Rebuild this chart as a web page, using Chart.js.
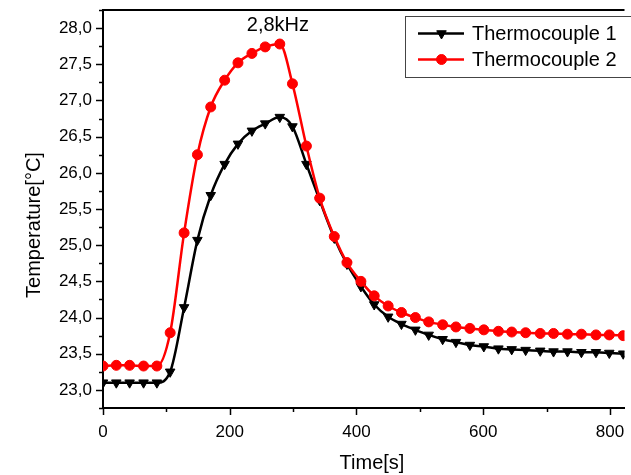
<!DOCTYPE html>
<html><head><meta charset="utf-8">
<script src="https://cdn.jsdelivr.net/npm/chart.js@4.4.1/dist/chart.umd.min.js"></script>
<style>html,body{margin:0;padding:0;background:#fff;}canvas{display:block;}</style>
</head><body>
<canvas id="c" width="631" height="475"></canvas>
<script>
// ---- data ----
const timeS = [0,21,42,64,85,106,128,149,170,192,213,235,256,279,299,321,342,365,385,407,428,450,471,493,514,536,557,579,601,624,645,667,690,711,733,755,778,799,821];
const thermocouple1 = [23.10,23.10,23.10,23.10,23.10,23.25,24.14,25.07,25.69,26.12,26.40,26.58,26.68,26.77,26.64,26.12,25.62,25.10,24.74,24.43,24.18,24.01,23.91,23.83,23.76,23.70,23.66,23.62,23.60,23.57,23.56,23.55,23.54,23.53,23.53,23.52,23.52,23.51,23.50];
const thermocouple2 = [23.33,23.34,23.34,23.33,23.33,23.79,25.17,26.25,26.91,27.28,27.52,27.65,27.74,27.78,27.23,26.37,25.65,25.12,24.76,24.50,24.30,24.16,24.07,24.00,23.94,23.90,23.87,23.85,23.83,23.81,23.80,23.79,23.78,23.78,23.77,23.77,23.76,23.76,23.75];
const seriesNames = ['Thermocouple 1', 'Thermocouple 2'];
const xTickValues = [0,100,200,300,400,500,600,700,800];
const xTickLabels = ['0','','200','','400','','600','','800'];
const yTickValues = [22.75,23.0,23.25,23.5,23.75,24.0,24.25,24.5,24.75,25.0,25.25,25.5,25.75,26.0,26.25,26.5,26.75,27.0,27.25,27.5,27.75,28.0,28.25];
const yTickLabels = ['','23,0','','23,5','','24,0','','24,5','','25,0','','25,5','','26,0','','26,5','','27,0','','27,5','','28,0',''];
const xTitle = 'Time[s]';
const yTitle = 'Temperature[°C]';
const annotationText = '2,8kHz';

const FONT = "'Liberation Sans', Arial, sans-serif";

const overlay = {
  id: 'overlay',
  afterDraw(chart) {
    const {ctx, chartArea: a, scales: {x, y}} = chart;
    ctx.save();
    ctx.strokeStyle = '#000';
    // top frame line
    ctx.lineWidth = 2;
    ctx.beginPath(); ctx.moveTo(a.left - 1, a.top); ctx.lineTo(a.right, a.top); ctx.stroke();
    // tick marks (major / minor)
    ctx.lineWidth = 1.5;
    yTickValues.forEach((v, i) => {
      const py = Math.round(y.getPixelForValue(v)) + 0.5;
      const len = yTickLabels[i] ? 7 : 4;
      ctx.beginPath(); ctx.moveTo(a.left - len, py); ctx.lineTo(a.left, py); ctx.stroke();
    });
    xTickValues.forEach((v, i) => {
      const px = Math.round(x.getPixelForValue(v)) + 0.5;
      const len = xTickLabels[i] ? 7 : 4;
      ctx.beginPath(); ctx.moveTo(px, a.bottom); ctx.lineTo(px, a.bottom + len); ctx.stroke();
    });
    // axis titles
    ctx.fillStyle = '#000';
    ctx.font = '20px ' + FONT;
    ctx.textAlign = 'center'; ctx.textBaseline = 'middle';
    ctx.fillText(xTitle, 372, 463);
    ctx.save();
    ctx.translate(34, 225); ctx.rotate(-Math.PI / 2);
    ctx.fillText(yTitle, 0, 0);
    ctx.restore();
    // annotation
    ctx.fillText(annotationText, x.getPixelForValue(276), y.getPixelForValue(28.03));
    // legend
    ctx.lineWidth = 1; ctx.strokeStyle = '#444';
    ctx.strokeRect(405.5, 16.5, 300, 61);
    const items = [
      {name: seriesNames[0], color: '#000', style: 'triangle', rot: 180, r: 5.5, y: 33.5},
      {name: seriesNames[1], color: '#ff0000', style: 'circle', rot: 0, r: 5, y: 59.5}
    ];
    items.forEach(it => {
      ctx.strokeStyle = it.color; ctx.fillStyle = it.color; ctx.lineWidth = 2.5;
      ctx.beginPath(); ctx.moveTo(418, it.y); ctx.lineTo(464, it.y); ctx.stroke();
      ctx.lineWidth = 1;
      Chart.helpers.drawPoint(ctx, {pointStyle: it.style, rotation: it.rot, radius: it.r, borderWidth: 1}, 441.5, it.y);
      ctx.fillStyle = '#000'; ctx.textAlign = 'left'; ctx.textBaseline = 'middle';
      ctx.font = '20px ' + FONT;
      ctx.fillText(it.name, 472, it.y + 1);
    });
    ctx.restore();
  }
};

new Chart(document.getElementById('c'), {
  type: 'line',
  data: {
    datasets: [
      {
        label: seriesNames[0],
        data: timeS.map((t, i) => ({x: t, y: thermocouple1[i]})),
        borderColor: '#000', backgroundColor: '#000',
        pointStyle: 'triangle', pointRotation: 180, pointRadius: 5.5,
        pointBackgroundColor: '#000', pointBorderColor: '#000', pointBorderWidth: 1,
        borderWidth: 2.5, cubicInterpolationMode: 'monotone', order: 1
      },
      {
        label: seriesNames[1],
        data: timeS.map((t, i) => ({x: t, y: thermocouple2[i]})),
        borderColor: '#ff0000', backgroundColor: '#ff0000',
        pointStyle: 'circle', pointRadius: 5,
        pointBackgroundColor: '#ff0000', pointBorderColor: '#ff0000', pointBorderWidth: 1,
        borderWidth: 2.5, cubicInterpolationMode: 'monotone', order: 0
      }
    ]
  },
  options: {
    responsive: false, animation: false, devicePixelRatio: 1, events: [],
    layout: {padding: {top: 10, left: 0, right: 0, bottom: 0}},
    plugins: {legend: {display: false}, tooltip: {enabled: false}},
    scales: {
      x: {
        type: 'linear', min: 0, max: 823,
        afterBuildTicks: s => { s.ticks = xTickValues.map(v => ({value: v})); },
        afterFit: s => { s.height = 67; s.paddingLeft = 0; s.paddingRight = 0; },
        grid: {display: false, drawTicks: false},
        border: {display: true, color: '#000', width: 2},
        ticks: {
          autoSkip: false, maxRotation: 0, padding: 14, color: '#000',
          font: {family: FONT, size: 17},
          callback: v => xTickLabels[xTickValues.indexOf(v)] ?? ''
        }
      },
      y: {
        type: 'linear', min: 22.75, max: 28.25,
        afterBuildTicks: s => { s.ticks = yTickValues.map(v => ({value: v})); },
        afterFit: s => { s.width = 103; s.paddingTop = 0; s.paddingBottom = 0; },
        grid: {display: false, drawTicks: false},
        border: {display: true, color: '#000', width: 2},
        ticks: {
          autoSkip: false, padding: 11, color: '#000',
          font: {family: FONT, size: 17},
          callback: v => yTickLabels[yTickValues.indexOf(v)] ?? ''
        }
      }
    }
  },
  plugins: [overlay]
});
</script>
</body></html>
